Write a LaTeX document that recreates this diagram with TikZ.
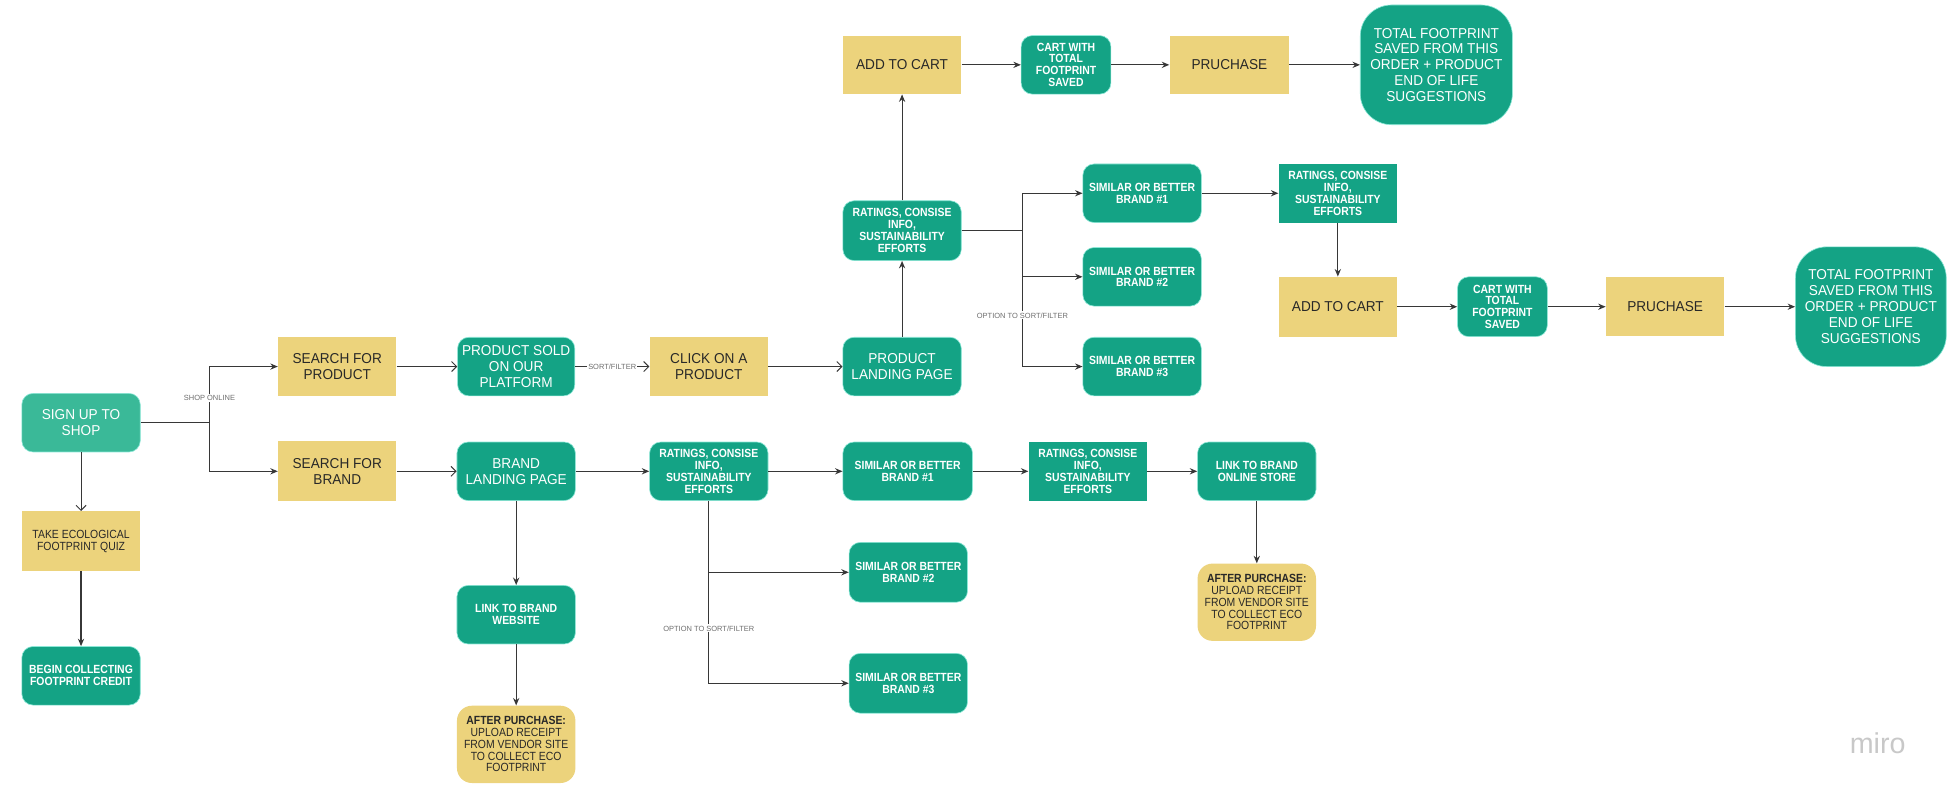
\documentclass[tikz,border=0pt]{standalone}
\usepackage{fontspec}
\usepackage{xcolor}
\usepackage{tikz}
\usetikzlibrary{arrows.meta}
\setmainfont{Liberation Sans}
\newfontfamily\condfont[FakeStretch=0.88]{Liberation Sans}
\newfontfamily\widefont[FakeStretch=0.95]{Liberation Sans}
\definecolor{miroteal}{RGB}{20,163,133}
\definecolor{mirolight}{RGB}{58,185,152}
\definecolor{miroglow}{RGB}{140,232,215}
\definecolor{miroyellow}{RGB}{236,211,124}
\definecolor{miroink}{RGB}{40,40,40}
\definecolor{miroline}{RGB}{55,55,55}
\definecolor{mirogray}{RGB}{110,110,110}
\definecolor{mirologo}{RGB}{200,200,200}

\begin{document}
\begin{tikzpicture}[x=1pt, y=-1pt,
    box/.style={align=center, inner sep=0pt, minimum width=95pt, minimum height=47pt},
    tealbox/.style={box, fill=miroteal, draw=miroglow, line width=0.5pt, rounded corners=9pt, text=white},
    tealsquare/.style={box, fill=miroteal, text=white},
    yellowbox/.style={box, fill=miroyellow, text=miroink},
    bigtext/.style={font=\widefont\fontsize{11.5}{12.7}\selectfont},
    smallbold/.style={font=\condfont\bfseries\fontsize{9.5}{9.5}\selectfont},
    smallreg/.style={font=\condfont\fontsize{9.5}{9.4}\selectfont},
    flow/.style={draw=miroline, line width=0.9pt, -{Stealth[length=6pt,width=5pt]}},
    openflow/.style={draw=miroline, line width=0.8pt, -{Straight Barb[length=4pt,width=8pt]}},
    wire/.style={draw=miroline, line width=0.9pt},
    flowlabel/.style={font=\fontsize{6}{7}\selectfont, text=mirogray, fill=white, inner sep=1pt}]
    \useasboundingbox (0, 0) rectangle (1568, 641);

    % Sign up column
    \node[tealbox, bigtext, fill=mirolight] (signup) at (65, 339) {SIGN UP TO\\SHOP};
    \node[yellowbox, smallreg, minimum height=48pt] (quiz) at (65, 434) {TAKE ECOLOGICAL\\FOOTPRINT QUIZ};
    \node[tealbox, smallbold] (credit) at (65, 542) {BEGIN COLLECTING\\FOOTPRINT CREDIT};

    % Search boxes
    \node[yellowbox, bigtext, minimum height=48pt] (searchprod) at (270.5, 294) {SEARCH FOR\\PRODUCT};
    \node[yellowbox, bigtext, minimum height=48pt] (searchbrand) at (270.5, 378) {SEARCH FOR\\BRAND};

    % Product row
    \node[tealbox, bigtext, minimum width=94pt] (prodsold) at (414, 294) {PRODUCT SOLD\\ON OUR\\PLATFORM};
    \node[yellowbox, bigtext] (clickprod) at (568.5, 294) {CLICK ON A\\PRODUCT};
    \node[tealbox, bigtext] (prodland) at (723.5, 294) {PRODUCT\\LANDING PAGE};
    \node[tealbox, smallbold, minimum height=48pt] (prodinfo) at (723.5, 185) {RATINGS, CONSISE\\INFO,\\SUSTAINABILITY\\EFFORTS};

    % Top checkout row
    \node[yellowbox, bigtext] (addcart) at (723.5, 52) {ADD TO CART};
    \node[tealbox, smallbold, minimum width=72pt] (cartsaved) at (855, 52) {CART WITH\\TOTAL\\FOOTPRINT\\SAVED};
    \node[yellowbox, bigtext, minimum width=96pt] (purchase) at (986, 52) {PRUCHASE};
    \node[tealbox, bigtext, minimum width=122pt, minimum height=96pt, rounded corners=25pt] (totalsaved) at (1152, 52) {TOTAL FOOTPRINT\\SAVED FROM THIS\\ORDER + PRODUCT\\END OF LIFE\\SUGGESTIONS};

    % Alternatives for the product
    \node[tealbox, smallbold] (simA1) at (916, 155) {SIMILAR OR BETTER\\BRAND \#1};
    \node[tealbox, smallbold] (simA2) at (916, 222) {SIMILAR OR BETTER\\BRAND \#2};
    \node[tealbox, smallbold] (simA3) at (916, 294) {SIMILAR OR BETTER\\BRAND \#3};

    % Second checkout row
    \node[tealsquare, smallbold] (infoA) at (1073, 155) {RATINGS, CONSISE\\INFO,\\SUSTAINABILITY\\EFFORTS};
    \node[yellowbox, bigtext, minimum height=48pt] (addcartA) at (1073, 246) {ADD TO CART};
    \node[tealbox, smallbold, minimum width=72pt, minimum height=48pt] (cartA) at (1205, 246) {CART WITH\\TOTAL\\FOOTPRINT\\SAVED};
    \node[yellowbox, bigtext] (purchaseA) at (1335.5, 246) {PRUCHASE};
    \node[tealbox, bigtext, minimum width=121pt, minimum height=96pt, rounded corners=25pt] (totalA) at (1500.5, 246) {TOTAL FOOTPRINT\\SAVED FROM THIS\\ORDER + PRODUCT\\END OF LIFE\\SUGGESTIONS};

    % Brand row
    \node[tealbox, bigtext] (brandland) at (414, 378) {BRAND\\LANDING PAGE};
    \node[tealbox, smallbold] (brandinfo) at (568.5, 378) {RATINGS, CONSISE\\INFO,\\SUSTAINABILITY\\EFFORTS};
    \node[tealbox, smallbold, minimum width=104pt] (simB1) at (728, 378) {SIMILAR OR BETTER\\BRAND \#1};
    \node[tealbox, smallbold, minimum height=48pt] (simB2) at (728.5, 459) {SIMILAR OR BETTER\\BRAND \#2};
    \node[tealbox, smallbold, minimum height=48pt] (simB3) at (728.5, 548) {SIMILAR OR BETTER\\BRAND \#3};
    \node[tealsquare, smallbold] (infoB) at (872.5, 378) {RATINGS, CONSISE\\INFO,\\SUSTAINABILITY\\EFFORTS};
    \node[tealbox, smallbold] (storelink) at (1008, 378) {LINK TO BRAND\\ONLINE STORE};
    \node[yellowbox, smallreg, minimum height=62pt, rounded corners=12pt] (receiptB) at (1008, 483) {\textbf{AFTER PURCHASE:}\\UPLOAD RECEIPT\\FROM VENDOR SITE\\TO COLLECT ECO\\FOOTPRINT};

    % Brand website branch
    \node[tealbox, smallbold] (weblink) at (414, 493) {LINK TO BRAND\\WEBSITE};
    \node[yellowbox, smallreg, minimum height=62pt, rounded corners=12pt] (receiptA) at (414, 597) {\textbf{AFTER PURCHASE:}\\UPLOAD RECEIPT\\FROM VENDOR SITE\\TO COLLECT ECO\\FOOTPRINT};

    % Arrows
    \draw[openflow] (signup) -- (quiz);
    \draw[flow] (quiz) -- (credit);
    \coordinate (shopsplit) at (168, 339);
    \draw[wire] (signup.east) -- (shopsplit);
    \draw[flow] (shopsplit) |- (searchprod);
    \draw[flow] (shopsplit) |- (searchbrand);
    \node[flowlabel] (shoplabel) at (168, 319) {SHOP ONLINE};

    \draw[openflow] (searchprod) -- (prodsold);
    \draw[openflow] (prodsold) -- node[flowlabel] (sortlabel) {SORT/FILTER} (clickprod);
    \draw[openflow] (clickprod) -- (prodland);
    \draw[flow] (prodland) -- (prodinfo);
    \draw[flow] (prodinfo) -- (addcart);
    \draw[flow] (addcart) -- (cartsaved);
    \draw[flow] (cartsaved) -- (purchase);
    \draw[flow] (purchase) -- (totalsaved);

    \coordinate (prodsplit) at (820, 185);
    \draw[wire] (prodinfo.east) -- (prodsplit);
    \draw[flow] (prodsplit) |- (simA1);
    \draw[flow] (prodsplit) |- (simA2);
    \draw[flow] (prodsplit) |- (simA3);
    \node[flowlabel] (optlabelA) at (820, 253) {OPTION TO SORT/FILTER};

    \draw[flow] (simA1) -- (infoA);
    \draw[flow] (infoA) -- (addcartA);
    \draw[flow] (addcartA) -- (cartA);
    \draw[flow] (cartA) -- (purchaseA);
    \draw[flow] (purchaseA) -- (totalA);

    \draw[openflow] (searchbrand) -- (brandland);
    \draw[flow] (brandland) -- (brandinfo);
    \draw[flow] (brandinfo) -- (simB1);
    \draw[flow] (simB1) -- (infoB);
    \draw[flow] (infoB) -- (storelink);
    \draw[flow] (storelink) -- (receiptB);
    \draw[flow] (brandinfo.south) |- (simB3);
    \draw[flow] (brandinfo.south |- simB2) -- (simB2);
    \node[flowlabel] (optlabelB) at (568.5, 504) {OPTION TO SORT/FILTER};

    \draw[flow] (brandland) -- (weblink);
    \draw[flow] (weblink) -- (receiptA);

    % Watermark
    \node[text=mirologo, font=\fontsize{23}{23}\selectfont] (miro) at (1506, 596) {miro};
\end{tikzpicture}
\end{document}
